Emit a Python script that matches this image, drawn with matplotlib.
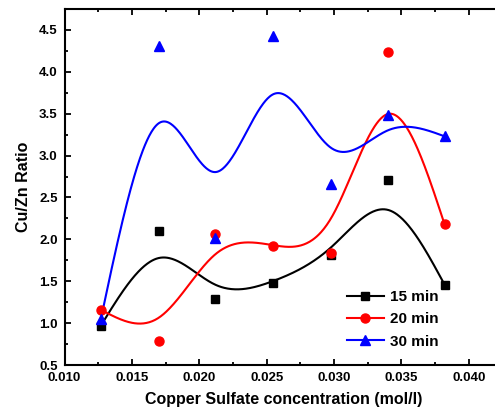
import numpy as np
import matplotlib
matplotlib.use("Agg")
import matplotlib.pyplot as plt
from matplotlib.lines import Line2D
from matplotlib.ticker import MultipleLocator, FormatStrFormatter

plt.rcParams['font.family'] = ['Liberation Sans', 'DejaVu Sans']
plt.rcParams['font.weight'] = 'bold'

conc = [0.0127, 0.0170, 0.0212, 0.0255, 0.0298, 0.0340, 0.0382]
ratio_15 = [0.97, 2.10, 1.29, 1.48, 1.81, 2.71, 1.46]
ratio_20 = [1.16, 0.79, 2.06, 1.92, 1.84, 4.24, 2.18]
ratio_30 = [1.05, 4.31, 2.02, 4.43, 2.66, 3.48, 3.23]
labels = ["15 min", "20 min", "30 min"]
colors = ["black", "red", "blue"]
markers = ["s", "o", "^"]
msizes = [5.5, 6.5, 7]


def bspline(xs, ys, per_seg=80):
    """Uniform cubic B-spline with reflected phantom end points
    (curve passes through first and last data points)."""
    P = np.column_stack([xs, ys]).astype(float)
    P = np.vstack([2 * P[0] - P[1], P, 2 * P[-1] - P[-2]])
    t = np.linspace(0, 1, per_seg, endpoint=False)
    b0 = (1 - t) ** 3 / 6
    b1 = (3 * t ** 3 - 6 * t ** 2 + 4) / 6
    b2 = (-3 * t ** 3 + 3 * t ** 2 + 3 * t + 1) / 6
    b3 = t ** 3 / 6
    out = []
    for i in range(len(P) - 3):
        seg = (b0[:, None] * P[i] + b1[:, None] * P[i + 1]
               + b2[:, None] * P[i + 2] + b3[:, None] * P[i + 3])
        out.append(seg)
    last = (P[-3] + 4 * P[-2] + P[-1]) / 6
    out.append(last[None, :])
    C = np.vstack(out)
    return C[:, 0], C[:, 1]


fig = plt.figure(figsize=(4.95, 4.17), dpi=100)
ax = fig.add_axes([64.5 / 495, 52 / 417, 438 / 495, 356 / 417])

series = [ratio_15, ratio_20, ratio_30]
for ys, c, mk, ms in zip(series, colors, markers, msizes):
    cx, cy = bspline(conc, ys)
    ax.plot(cx, cy, color=c, lw=1.5, zorder=2)
    ax.plot(conc, ys, linestyle='none', marker=mk, color=c, ms=ms, zorder=3)

ax.set_xlim(0.010, 0.0425)
ax.set_ylim(0.5, 4.75)
ax.xaxis.set_major_locator(MultipleLocator(0.005))
ax.xaxis.set_minor_locator(MultipleLocator(0.0025))
ax.yaxis.set_major_locator(MultipleLocator(0.5))
ax.yaxis.set_minor_locator(MultipleLocator(0.25))
ax.xaxis.set_major_formatter(FormatStrFormatter('%.3f'))
ax.yaxis.set_major_formatter(FormatStrFormatter('%.1f'))

for s in ax.spines.values():
    s.set_linewidth(1.5)
ax.tick_params(which='both', direction='in', top=True, right=True, width=1.3)
ax.tick_params(which='major', length=4.5, labelsize=9.5, pad=5)
ax.tick_params(which='minor', length=2.5)
for lab in ax.get_xticklabels() + ax.get_yticklabels():
    lab.set_fontweight('bold')

ax.set_xlabel("Copper Sulfate concentration (mol/l)", fontsize=11.5, fontweight='bold', labelpad=6)
ax.set_ylabel("Cu/Zn Ratio", fontsize=11.5, fontweight='bold', labelpad=6)

handles = [Line2D([0], [0], color=c, lw=1.5, marker=mk, ms=ms)
           for c, mk, ms in zip(colors, markers, msizes)]
leg = ax.legend(handles, labels, loc='upper left', bbox_to_anchor=(347 / 495, 1 - 290 / 417),
                bbox_transform=fig.transFigure, frameon=False, borderpad=0, borderaxespad=0,
                handlelength=2.4, handletextpad=0.4, labelspacing=0.55,
                prop={'size': 11, 'weight': 'bold'})

fig.savefig("out.png", dpi=100)
